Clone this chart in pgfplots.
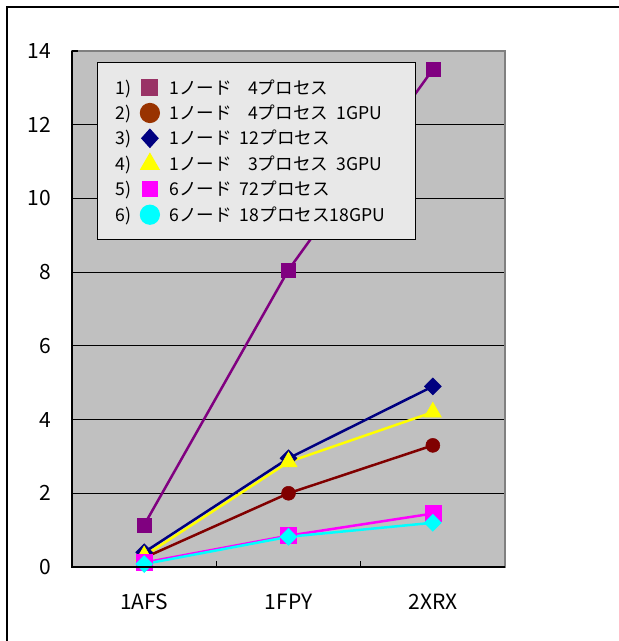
\documentclass[border=0pt]{standalone}
\usepackage{fontspec}
\setmainfont{Noto Sans CJK JP}
\usepackage{pgfplots}
\pgfplotsset{compat=1.18}
\definecolor{plotbg}{HTML}{C0C0C0}
\definecolor{legbg}{HTML}{E8E8E8}
\definecolor{sA}{HTML}{800080}
\definecolor{sB}{HTML}{800000}
\definecolor{sC}{HTML}{000080}
\definecolor{sD}{HTML}{FFFF00}
\definecolor{sE}{HTML}{FF00FF}
\definecolor{sF}{HTML}{00FFFF}
\definecolor{lA}{HTML}{993366}
\definecolor{lB}{HTML}{993300}
\pgfplotsset{
  numleg/.style={legend image code/.code={%
    \node[anchor=east,inner sep=0pt,text=black] at (-18pt,0pt) {#1)};
    \draw[##1] plot coordinates {(0pt,0pt)};}}
}
\begin{document}
\begin{tikzpicture}[x=1pt,y=1pt]
\useasboundingbox (-72,-74) rectangle (547,567);
\draw[line width=2pt] (-65,-74) -- (-65,560) -- (547,560);
\begin{axis}[
  at={(0,0)}, anchor=south west, scale only axis,
  width=433pt, height=516pt,
  xmin=-0.5, xmax=2.5, ymin=0, ymax=14,
  xtick={-0.5,0.5,1.5,2.5}, x tick label as interval,
  xticklabels={1AFS,1FPY,2XRX},
  ytick={0,2,...,12}, extra y ticks={14}, extra y tick style={grid=none},
  ymajorgrids, grid style={black, line width=1.2pt},
  xtick pos=bottom, ytick pos=left,
  axis background/.style={fill=plotbg},
  axis line style={draw=gray, line width=1.2pt},
  tick style={black, line width=1.2pt},
  major tick length=6pt,
  /pgf/number format/assume math mode=true,
  tick label style={font=\fontsize{21}{24}\selectfont},
  yticklabel style={inner sep=0pt, xshift=-21pt},
  xticklabel style={inner sep=0pt, yshift=-27pt},
  legend style={at={(rel axis cs:0.0577,0.9787)}, anchor=north west,
    draw=black, line width=1.2pt, fill=legbg,
    font=\fontsize{17.6}{20}\selectfont,
    inner xsep=18pt, inner ysep=15pt, row sep=5.2pt, column sep=8pt,
    cells={anchor=west}},
  legend cell align=left,
  after end axis/.code={\draw[black, line width=1.5pt] (rel axis cs:0,1) -- (rel axis cs:0,0) -- (rel axis cs:1,0);}
]
\addplot[forget plot, color=sA, line width=2.5pt, mark=square*, mark size=7pt, mark options={line width=0.5pt}]
  coordinates {(0,1.14) (1,8.06) (2,13.5)};
\addplot[forget plot, color=sB, line width=2.5pt, mark=*, mark size=7pt, mark options={line width=0.5pt}]
  coordinates {(0,0.25) (1,2.0) (2,3.3)};
\addplot[forget plot, color=sC, line width=2.5pt, mark=diamond*, mark size=8.5pt, mark options={line width=0.5pt, xscale=1.33}]
  coordinates {(0,0.4) (1,2.95) (2,4.9)};
\addplot[forget plot, color=sD, line width=2.5pt, mark=triangle*, mark size=10pt, mark options={line width=0.5pt}]
  coordinates {(0,0.3) (1,2.85) (2,4.2)};
\addplot[forget plot, color=sE, line width=2.5pt, mark=square*, mark size=8pt, mark options={line width=0.5pt}]
  coordinates {(0,0.12) (1,0.85) (2,1.45)};
\addplot[forget plot, color=sF, line width=2.5pt, mark=diamond*, mark size=8.5pt, mark options={line width=0.5pt, xscale=1.33}]
  coordinates {(0,0.08) (1,0.82) (2,1.2)};

\addlegendimage{numleg=1, only marks, mark=square*, color=lA, mark size=8pt}
\addlegendentry{1ノード\hspace{0.92em}4プロセス}
\addlegendimage{numleg=2, only marks, mark=*, color=lB, mark size=9.5pt}
\addlegendentry{1ノード\hspace{0.92em}4プロセス\hspace{0.45em}1GPU}
\addlegendimage{numleg=3, only marks, mark=diamond*, color=sC, mark size=9pt, mark options={xscale=1.2}}
\addlegendentry{1ノード\hspace{0.45em}12プロセス}
\addlegendimage{numleg=4, only marks, mark=triangle*, color=sD, mark size=10.5pt}
\addlegendentry{1ノード\hspace{0.92em}3プロセス\hspace{0.45em}3GPU}
\addlegendimage{numleg=5, only marks, mark=square*, color=sE, mark size=7.5pt}
\addlegendentry{6ノード\hspace{0.45em}72プロセス}
\addlegendimage{numleg=6, only marks, mark=*, color=sF, mark size=9.5pt}
\addlegendentry{6ノード\hspace{0.45em}18プロセス18GPU\rule{10pt}{0pt}}
\end{axis}
\end{tikzpicture}
\end{document}
